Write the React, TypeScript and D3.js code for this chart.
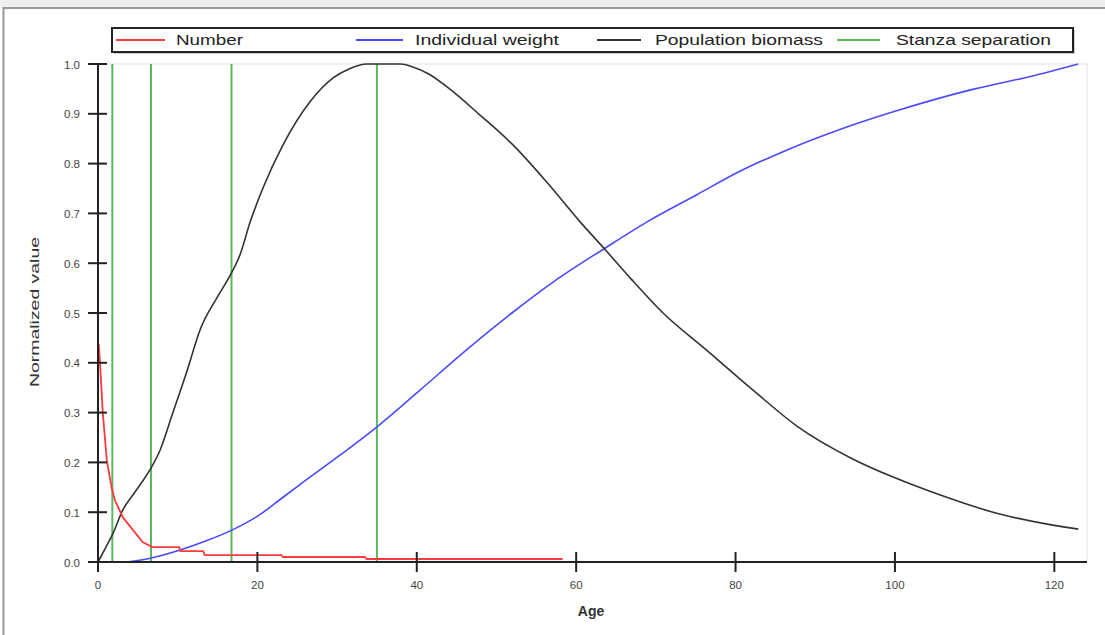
import React from "react";
import * as d3 from "d3";

const WIDTH = 1105;
const HEIGHT = 635;

// Population biomass (black)
const biomassAge = [0, 1, 1.9, 3.1, 4.4, 5.5, 6.7, 7.8, 9.4, 11.2, 12.8, 14.9, 16.6, 17.8, 19.1, 20.7, 23.2, 26.6, 29.5, 31.5, 33.7, 36, 38, 39.5, 41.5, 43.8, 47.9, 52.1, 56.3, 60.5, 63.6, 66.8, 70.9, 76.4, 82.2, 87.7, 94.7, 99.7, 105.6, 112.3, 119.8, 123];
const biomassValue = [0, 0.03, 0.058, 0.104, 0.135, 0.16, 0.19, 0.225, 0.3, 0.385, 0.466, 0.53, 0.576, 0.616, 0.683, 0.751, 0.837, 0.924, 0.972, 0.99, 1.0, 1.0, 1.0, 0.994, 0.98, 0.954, 0.898, 0.837, 0.763, 0.683, 0.628, 0.57, 0.5, 0.425, 0.345, 0.273, 0.207, 0.171, 0.135, 0.1, 0.074, 0.066];

// Individual weight (blue)
const weightAge = [3.6, 6.7, 10.3, 13.5, 16.8, 20.3, 22.8, 25.3, 30.4, 34.9, 40.4, 45.8, 52.1, 57.1, 63.6, 68.9, 75.2, 80.6, 86.4, 93, 100, 110, 117, 123];
const weightValue = [0, 0.008, 0.024, 0.042, 0.064, 0.095, 0.125, 0.155, 0.215, 0.27, 0.345, 0.42, 0.502, 0.562, 0.63, 0.683, 0.738, 0.785, 0.827, 0.868, 0.905, 0.95, 0.975, 1.0];

// Number (red)
const numberAge = [0, 0.1, 0.25, 0.6, 1.1, 1.7, 2.1, 3.1, 4.4, 5.6, 6.8, 10.2, 10.3, 13.2, 13.4, 23, 23.2, 33.5, 33.7, 58.3];
const numberValue = [0.44, 0.436, 0.4, 0.3, 0.205, 0.15, 0.125, 0.09, 0.064, 0.04, 0.03, 0.03, 0.022, 0.022, 0.014, 0.014, 0.01, 0.01, 0.006, 0.006];

// Stanza separation ages (green)
const stanzaAges = [1.8, 6.65, 16.75, 35];

const legendItems = [
  { label: "Number", color: "#ff3b3b", x1: 116, x2: 165, tx: 176, tw: 67 },
  { label: "Individual weight", color: "#4a4aff", x1: 356, x2: 403, tx: 415, tw: 144 },
  { label: "Population biomass", color: "#333", x1: 597, x2: 641, tx: 655, tw: 168 },
  { label: "Stanza separation", color: "#5cb85c", x1: 837, x2: 880, tx: 896, tw: 155 },
];

const FONT = "'Liberation Sans', Arial, sans-serif";

export default function App() {
  const x = d3.scaleLinear().domain([0, 124.1]).range([98, 1087]);
  const y = d3.scaleLinear().domain([0, 1]).range([562, 64]);

  const smooth = d3
    .line<[number, number]>()
    .x((d) => x(d[0]))
    .y((d) => y(d[1]))
    .curve(d3.curveMonotoneX);
  const straight = d3
    .line<[number, number]>()
    .x((d) => x(d[0]))
    .y((d) => y(d[1]));

  const zip = (a: number[], b: number[]) => a.map((v, i) => [v, b[i]] as [number, number]);

  const xTicks = x.ticks(7);
  const yTicks = y.ticks(10);
  const fmt = d3.format(".1f");

  return (
    <div style={{ position: "fixed", left: 0, top: 0 }}>
      <svg width={WIDTH} height={HEIGHT} style={{ display: "block" }}>
        <rect x={0} y={0} width={WIDTH} height={HEIGHT} fill="#fff" />
        <rect x={0} y={0} width={WIDTH} height={8} fill="#efefef" />
        <rect x={3.5} y={8} width={WIDTH + 10} height={HEIGHT + 10} fill="#fff" stroke="#999" strokeWidth={2} />

        {/* faint plot frame */}
        <rect x={98} y={64} width={989} height={498} fill="none" stroke="#ececec" strokeWidth={1.5} />

        {/* stanza separation */}
        {stanzaAges.map((a) => (
          <line key={a} x1={x(a)} x2={x(a)} y1={y(1)} y2={y(0)} stroke="#5cb85c" strokeWidth={2} />
        ))}

        {/* curves */}
        <path d={smooth(zip(weightAge, weightValue)) || ""} fill="none" stroke="#4a4aff" strokeWidth={1.6} />
        <path d={smooth(zip(biomassAge, biomassValue)) || ""} fill="none" stroke="#333" strokeWidth={1.6} />
        <path d={straight(zip(numberAge, numberValue)) || ""} fill="none" stroke="#ff3b3b" strokeWidth={1.8} />

        {/* axes */}
        <line x1={88} x2={x.range()[1]} y1={y(0)} y2={y(0)} stroke="#222" strokeWidth={2} />
        <line x1={x(0)} x2={x(0)} y1={y(1)} y2={y(0) + 10} stroke="#222" strokeWidth={2} />
        {xTicks.map((t) => (
          <g key={"x" + t}>
            <line x1={x(t)} x2={x(t)} y1={y(0) - 10} y2={y(0) + 10} stroke="#222" strokeWidth={2} />
            <text x={x(t)} y={589} textAnchor="middle" fontFamily={FONT} fontSize={11.5} fill="#444">
              {t}
            </text>
          </g>
        ))}
        {yTicks.map((t) => (
          <g key={"y" + t}>
            <line x1={x(0) - 10} x2={x(0) + 9} y1={y(t)} y2={y(t)} stroke="#222" strokeWidth={2} />
            <text x={80} y={y(t) + 4.5} textAnchor="end" fontFamily={FONT} fontSize={11.5} fill="#444">
              {fmt(t)}
            </text>
          </g>
        ))}

        <text x={591} y={616} textAnchor="middle" fontFamily={FONT} fontSize={14} fill="#333" fontWeight="bold">
          Age
        </text>
        <text
          transform="translate(39,312) rotate(-90)"
          textAnchor="middle"
          fontFamily={FONT}
          fontSize={12.5}
          fill="#333"
          textLength={150}
          lengthAdjust="spacingAndGlyphs"
        >
          Normalized value
        </text>

        {/* legend */}
        <rect x={114} y={30} width={961} height={24} fill="#999" opacity={0.5} />
        <rect x={112} y={28} width={961} height={24} fill="#fff" stroke="#222" strokeWidth={2} />
        {legendItems.map((d) => (
          <g key={d.label}>
            <line x1={d.x1} x2={d.x2} y1={40} y2={40} stroke={d.color} strokeWidth={2} />
            <text
              x={d.tx}
              y={45}
              fontFamily={FONT}
              fontSize={15}
              fill="#222"
              textLength={d.tw}
              lengthAdjust="spacingAndGlyphs"
            >
              {d.label}
            </text>
          </g>
        ))}
      </svg>
    </div>
  );
}
